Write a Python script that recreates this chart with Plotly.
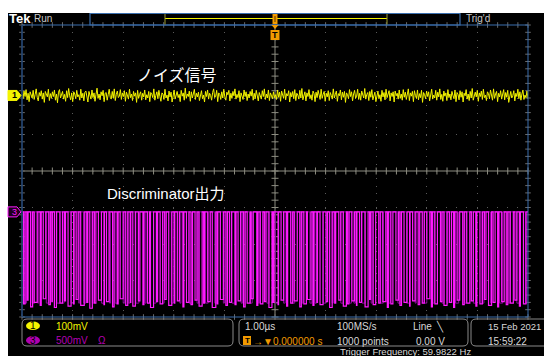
import plotly.graph_objects as go

W, H = 544, 356

# ---- Channel 1: noise signal (mV), 100 mV/div, 500 samples over 10 µs ----
ch1_scale_mv = 100
ch1_offset_div = 2.07
ch1_noise_mv = [
    4, -9, 12, -3, 16, -12, 6, -17, 10, 1, -7, 14, -11, 3, 18, -5, -15, 8, -2, 13, -10, 7, -19, 11, 2,
    -4, 17, -14, 5, -8, 10, -3, 15, -13, 4, -20, 9, 16, -7, 0, 11, -10, 3, -16, 13, -6, 19, -1, -12, 7,
    -17, 10, 4, -9, 14, -4, 2, -13, 17, -7, 6, -15, 9, 12, -3, -18, 11, 0, -10, 15, -6, 7, -16, 3, 20,
    -8, 4, -12, 10, -1, 14, -17, 6, 8, -13, 2, 17, -5, -10, 11, -7, 18, -14, 3, 12, -6, -2, 16, -11, 7,
    -3, 13, -16, 9, 0, -10, 17, -6, 4, -14, 11, -2, 7, -19, 14, -8, 3, 10, -13, 6, -4, 15, -12, 2, -7,
    11, -17, 8, 3, -6, 18, -13, 0, 10, -9, 14, -3, -16, 7, 4, -11, 17, -7, 1, -15, 12, -4, 9, -18, 5,
    15, -10, 0, 11, -6, 3, -17, 14, -2, 7, -13, 20, -8, 4, -3, 12, -16, 10, -7, 2, 17, -11, 6, -4, 9,
    -14, 4, 13, -9, 1, -18, 11, -3, 15, -10, 6, 0, -13, 8, 18, -6, -2, 14, -17, 7, 3, -11, 10, -7, 17,
    -4, -13, 9, 2, 14, -15, 6, -8, 11, -1, 18, -10, 3, -6, 13, -17, 7, 0, -11, 15, -3, 10, -14, 4, -7,
    11, -2, 17, -13, 6, -9, 14, -4, -15, 8, 1, -10, 13, -3, 18, -11, 4, -7, 15, -14, 7, 0, -9, 10, -6,
    2, -11, 15, -5, 9, -16, 12, 3, -8, 17, -12, 5, -1, 13, -18, 8, -4, 11, -9, 16, -14, 6, 1, -10, 14,
    -7, 19, -12, 4, 10, -15, 7, -3, 16, -9, 2, -13, 12, 5, -17, 9, -6, 14, -2, -11, 17, -8, 3, 11, -16,
    6, -4, 13, -14, 8, 0, -10, 18, -7, 3, 12, -16, 5, -1, 15, -12, 9, -5, 11, -19, 7, 2, -9, 16, -3,
    10, -15, 4, 14, -8, -2, 17, -11, 6, -13, 12, 1, -7, 19, -10, 3, 8, -14, 11, -5, 16, -12, 0, 9, -17,
    5, 12, -9, 2, -16, 14, -4, 8, -12, 17, -6, 1, 13, -15, 7, -3, 10, -18, 12, -1, 6, -10, 15, -8, 4,
    -13, 16, -5, 9, -11, 3, 18, -14, 7, -2, 11, -17, 13, 0, -8, 15, -12, 5, -6, 14, -19, 8, 2, -9, 12,
    -3, 10, -15, 6, 17, -10, 1, -7, 14, -13, 9, -4, 18, -11, 3, -16, 12, -2, 7, -14, 16, -6, 4, -12, 11,
    0, -9, 15, -17, 8, 3, -12, 13, -5, 10, -18, 6, -1, 16, -10, 4, -14, 11, -7, 19, -13, 2, 9, -4, 14,
    -16, 7, -3, 12, -11, 17, -6, 1, -14, 10, 5, -9, 15, -2, -13, 18, -8, 4, 11, -17, 6, -4, 13, -10, 2,
    16, -12, 8, -5, 14, -19, 3, 11, -7, 0, 13, -15, 6, -3, 17, -9, 10, -13, 4, 15, -11, 1, -6, 12, -8,
]

# ---- Channel 3: discriminator output (V), 500 mV/div ----
ch3_scale_v = 0.5
ch3_offset_div = -1.12
ch3_high_v = 0.0

# latest acquisition: pulse start (µs), width (µs), low level (V)
ch3_pulse_start_us = [
    -4.97, -4.90, -4.83, -4.76, -4.64, -4.58, -4.47, -4.41, -4.36, -4.25,
    -4.16, -4.09, -3.98, -3.93, -3.84, -3.72, -3.66, -3.57, -3.49, -3.38,
    -3.33, -3.21, -3.12, -3.06, -2.95, -2.86, -2.81, -2.70, -2.61, -2.52,
    -2.46, -2.34, -2.27, -2.18, -2.10, -1.99, -1.93, -1.82, -1.75, -1.66,
    -1.58, -1.50, -1.41, -1.33, -1.24, -1.14, -1.08, -0.97, -0.90, -0.79,
    -0.73, -0.62, -0.55, -0.47, -0.36, -0.29, -0.21, -0.12, -0.04, 0.06,
    0.12, 0.23, 0.31, 0.38, 0.49, 0.57, 0.64, 0.75, 0.83, 0.89,
    1.01, 1.08, 1.18, 1.26, 1.35, 1.43, 1.52, 1.61, 1.67, 1.78,
    1.87, 1.94, 2.05, 2.13, 2.22, 2.29, 2.39, 2.47, 2.55, 2.66,
    2.72, 2.83, 2.91, 3.00, 3.09, 3.16, 3.27, 3.34, 3.45, 3.53,
    3.60, 3.71, 3.79, 3.88, 3.97, 4.05, 4.14, 4.22, 4.31, 4.40,
    4.48, 4.57, 4.65, 4.74, 4.83, 4.91,
]
ch3_pulse_width_us = [
    0.03, 0.02, 0.04, 0.06, 0.02, 0.05, 0.03, 0.01, 0.04, 0.05,
    0.02, 0.06, 0.01, 0.04, 0.07, 0.02, 0.05, 0.03, 0.06, 0.01,
    0.05, 0.03, 0.02, 0.06, 0.04, 0.01, 0.05, 0.03, 0.02, 0.04,
    0.06, 0.02, 0.05, 0.03, 0.06, 0.01, 0.04, 0.02, 0.05, 0.03,
    0.04, 0.06, 0.02, 0.05, 0.07, 0.01, 0.06, 0.03, 0.04, 0.02,
    0.05, 0.03, 0.06, 0.04, 0.02, 0.05, 0.03, 0.06, 0.02, 0.01,
    0.05, 0.02, 0.04, 0.06, 0.03, 0.05, 0.07, 0.02, 0.01, 0.06,
    0.03, 0.05, 0.02, 0.04, 0.06, 0.03, 0.05, 0.01, 0.04, 0.06,
    0.02, 0.05, 0.03, 0.06, 0.02, 0.04, 0.05, 0.03, 0.06, 0.01,
    0.05, 0.03, 0.04, 0.06, 0.02, 0.05, 0.03, 0.06, 0.04, 0.02,
    0.05, 0.03, 0.06, 0.04, 0.02, 0.05, 0.03, 0.06, 0.04, 0.02,
    0.05, 0.03, 0.06, 0.04, 0.02, 0.05,
]
ch3_pulse_low_v = [
    -1.26, -1.21, -1.30, -1.24, -1.28, -1.19, -1.27, -1.23, -1.31, -1.25,
    -1.22, -1.29, -1.26, -1.20, -1.28, -1.24, -1.32, -1.25, -1.21, -1.27,
    -1.23, -1.30, -1.26, -1.19, -1.28, -1.24, -1.29, -1.22, -1.27, -1.25,
    -1.31, -1.23, -1.26, -1.20, -1.28, -1.25, -1.22, -1.30, -1.24, -1.27,
    -1.21, -1.29, -1.25, -1.23, -1.31, -1.26, -1.20, -1.28, -1.24, -1.27,
    -1.22, -1.30, -1.25, -1.19, -1.28, -1.26, -1.23, -1.31, -1.24, -1.27,
    -1.21, -1.29, -1.25, -1.22, -1.30, -1.26, -1.20, -1.28, -1.24, -1.27,
    -1.23, -1.31, -1.25, -1.21, -1.29, -1.26, -1.22, -1.28, -1.24, -1.30,
    -1.20, -1.27, -1.25, -1.23, -1.31, -1.26, -1.21, -1.28, -1.24, -1.29,
    -1.22, -1.27, -1.25, -1.19, -1.30, -1.26, -1.23, -1.28, -1.24, -1.31,
    -1.21, -1.27, -1.25, -1.22, -1.29, -1.26, -1.20, -1.28, -1.24, -1.30,
    -1.23, -1.27, -1.25, -1.21, -1.29, -1.26,
]

# earlier acquisitions kept on screen by persistence
ch3_prev_start_us = [
    -4.94, -4.80, -4.69, -4.52, -4.31, -4.20, -4.03, -3.88, -3.78, -3.61,
    -3.43, -3.27, -3.16, -3.00, -2.90, -2.75, -2.57, -2.40, -2.22, -2.05,
    -1.88, -1.70, -1.54, -1.37, -1.19, -1.02, -0.85, -0.67, -0.50, -0.33,
    -0.16, 0.01, 0.17, 0.34, 0.53, 0.69, 0.79, 0.95, 1.13, 1.30,
    1.47, 1.56, 1.72, 1.90, 2.09, 2.25, 2.43, 2.60, 2.77, 2.95,
    3.12, 3.30, 3.40, 3.57, 3.75, 3.92, 4.09, 4.26, 4.44, 4.61,
    4.78, 4.95,
]
ch3_prev_width_us = [
    0.03, 0.05, 0.02, 0.04, 0.06, 0.03, 0.05, 0.02, 0.04, 0.03,
    0.06, 0.02, 0.05, 0.03, 0.04, 0.06, 0.02, 0.05, 0.03, 0.04,
    0.02, 0.06, 0.03, 0.05, 0.04, 0.02, 0.06, 0.03, 0.05, 0.02,
    0.04, 0.06, 0.03, 0.05, 0.02, 0.04, 0.03, 0.06, 0.02, 0.05,
    0.04, 0.03, 0.06, 0.02, 0.05, 0.03, 0.04, 0.06, 0.02, 0.05,
    0.03, 0.04, 0.02, 0.06, 0.03, 0.05, 0.04, 0.02, 0.06, 0.03,
    0.05, 0.03,
]
ch3_prev_low_v = -1.25

time_range_us = (-5.0, 5.0)
div_range = (-4.0, 4.0)

# ---- text labels ----
label_ch1 = "ノイズ信号"
label_ch3 = "Discriminator出力"
readout_ch1 = "100mV"
readout_ch3 = "500mV"
readout_timebase = "1.00µs"
readout_trigpos = "→▼0.000000 s"
readout_rate = "100MS/s"
readout_points = "1000 points"
readout_trig_src = "Line  ╲"
readout_trig_lvl = "0.00 V"
readout_trig_freq = "Trigger Frequency: 59.9822 Hz"
readout_date = "15 Feb 2021"
readout_time = "15:59:22"

YELLOW = "#f4f400"
MAGENTA = "#ff1aff"
MAGENTA_DIM = "#8a0a9a"
MAGENTA_TXT = "#b400b4"
ORANGE = "#f29a00"
BLUE = "#3b6fae"
GRAY_TXT = "#d8d8d8"
FONT = "Liberation Sans"
CJK = "Noto Sans CJK JP"


def px(x):
    return x / W


def py(y):
    return 1 - y / H


def pulse_train(starts, widths, lows, high, t_lo, t_hi):
    ts, vs = [t_lo], [high]
    for s, w, lo in zip(starts, widths, lows):
        ts += [s, s, s + w, s + w]
        vs += [high, lo, lo, high]
    ts.append(t_hi)
    vs.append(high)
    return ts, vs


# ---- build traces ----
t0, t1 = time_range_us
n = len(ch1_noise_mv)
ch1_t = [t0 + (t1 - t0) * i / (n - 1) for i in range(n)]
ch1_y = [ch1_offset_div + v / ch1_scale_mv for v in ch1_noise_mv]

ch3_t, ch3_v = pulse_train(ch3_pulse_start_us, ch3_pulse_width_us, ch3_pulse_low_v,
                           ch3_high_v, t0, t1)
ch3_y = [ch3_offset_div + v / ch3_scale_v for v in ch3_v]
prev_t, prev_v = pulse_train(ch3_prev_start_us, ch3_prev_width_us,
                             [ch3_prev_low_v] * len(ch3_prev_start_us), ch3_high_v, t0, t1)
prev_y = [ch3_offset_div + v / ch3_scale_v for v in prev_v]

fig = go.Figure()

# graticule tick marks (every 1/5 division)
minor_x = [t0 + 0.2 * i for i in range(51)]
minor_y = [div_range[0] + 0.2 * i for i in range(41)]
tick_style = dict(color="#8c8c80", line=dict(color="#8c8c80", width=1))
fig.add_trace(go.Scatter(x=minor_x, y=[0] * len(minor_x), mode="markers",
                         marker=dict(symbol="line-ns", size=5, **tick_style),
                         hoverinfo="skip", showlegend=False, cliponaxis=False))
fig.add_trace(go.Scatter(x=[0] * len(minor_y), y=minor_y, mode="markers",
                         marker=dict(symbol="line-ew", size=5, **tick_style),
                         hoverinfo="skip", showlegend=False, cliponaxis=False))
edge_style = dict(color="#6a6a6a", line=dict(color="#6a6a6a", width=1))
for yy in div_range:
    fig.add_trace(go.Scatter(x=minor_x, y=[yy] * len(minor_x), mode="markers",
                             marker=dict(symbol="line-ns", size=4, **edge_style),
                             hoverinfo="skip", showlegend=False, cliponaxis=False))
for xx in time_range_us:
    fig.add_trace(go.Scatter(x=[xx] * len(minor_y), y=minor_y, mode="markers",
                             marker=dict(symbol="line-ew", size=4, **edge_style),
                             hoverinfo="skip", showlegend=False, cliponaxis=False))

fig.add_trace(go.Scatter(x=ch1_t, y=ch1_y, mode="lines",
                         line=dict(color=YELLOW, width=1),
                         hoverinfo="skip", showlegend=False))
fig.add_trace(go.Scatter(x=prev_t, y=prev_y, mode="lines",
                         line=dict(color=MAGENTA_DIM, width=1),
                         hoverinfo="skip", showlegend=False))
fig.add_trace(go.Scatter(x=ch3_t, y=ch3_y, mode="lines",
                         line=dict(color=MAGENTA, width=1.2),
                         hoverinfo="skip", showlegend=False))

shapes = []
# screen background
shapes.append(dict(type="rect", xref="paper", yref="paper", layer="below",
                   x0=px(8), x1=px(W), y0=py(H), y1=py(13),
                   fillcolor="black", line=dict(width=0)))
# center crosshair
shapes.append(dict(type="line", xref="x", yref="y", x0=t0, x1=t1, y0=0, y1=0,
                   line=dict(color="#8c8c80", width=1), layer="below"))
shapes.append(dict(type="line", xref="x", yref="y", x0=0, x1=0,
                   y0=div_range[0], y1=div_range[1],
                   line=dict(color="#8c8c80", width=1), layer="below"))
# graticule border
shapes.append(dict(type="rect", xref="paper", yref="paper",
                   x0=px(22), x1=px(528), y0=py(317), y1=py(25),
                   line=dict(color=BLUE, width=1)))
shapes.append(dict(type="line", xref="paper", yref="paper",
                   x0=px(22), x1=px(22), y0=py(317), y1=py(25),
                   line=dict(color="#1f3d63", width=1.5)))

# record view bar at the top
shapes.append(dict(type="rect", xref="paper", yref="paper",
                   x0=px(90), x1=px(460), y0=py(25), y1=py(13.5),
                   line=dict(color=BLUE, width=1.2)))
shapes.append(dict(type="line", xref="paper", yref="paper",
                   x0=px(165), x1=px(387), y0=py(18.5), y1=py(18.5),
                   line=dict(color=YELLOW, width=1)))
for xb in (165, 387):
    shapes.append(dict(type="line", xref="paper", yref="paper",
                       x0=px(xb), x1=px(xb), y0=py(24.5), y1=py(14),
                       line=dict(color="#9a9a30", width=1)))

# trigger position markers
shapes.append(dict(type="rect", xref="paper", yref="paper",
                   x0=px(272.5), x1=px(277.5), y0=py(24), y1=py(14),
                   fillcolor=ORANGE, line=dict(width=0)))
shapes.append(dict(type="line", xref="paper", yref="paper",
                   x0=px(275), x1=px(275), y0=py(22), y1=py(16),
                   line=dict(color="#5a3a00", width=1)))
shapes.append(dict(type="path", xref="paper", yref="paper",
                   path=f"M {px(271.5)},{py(25)} L {px(278.5)},{py(25)} L {px(275)},{py(29)} Z",
                   fillcolor=ORANGE, line=dict(width=0)))
shapes.append(dict(type="rect", xref="paper", yref="paper",
                   x0=px(270.5), x1=px(279.5), y0=py(40), y1=py(30),
                   fillcolor=ORANGE, line=dict(width=0)))


def marker_path(yc):
    return (f"M {px(8)},{py(yc - 5)} L {px(17)},{py(yc - 5)} L {px(21)},{py(yc)} "
            f"L {px(17)},{py(yc + 5)} L {px(8)},{py(yc + 5)} Z")


# channel level markers
ch1_marker_y = 171 - ch1_offset_div * 36.5
ch3_marker_y = 171 - ch3_offset_div * 36.5
shapes.append(dict(type="path", xref="paper", yref="paper", path=marker_path(ch1_marker_y),
                   fillcolor=YELLOW, line=dict(color=YELLOW, width=1)))
shapes.append(dict(type="path", xref="paper", yref="paper", path=marker_path(ch3_marker_y),
                   fillcolor="#200020", line=dict(color=MAGENTA, width=1)))


def rounded_box(x0, y0, x1, y1, r=5):
    p = (f"M {px(x0 + r)},{py(y0)} L {px(x1 - r)},{py(y0)} "
         f"Q {px(x1)},{py(y0)} {px(x1)},{py(y0 + r)} L {px(x1)},{py(y1 - r)} "
         f"Q {px(x1)},{py(y1)} {px(x1 - r)},{py(y1)} L {px(x0 + r)},{py(y1)} "
         f"Q {px(x0)},{py(y1)} {px(x0)},{py(y1 - r)} L {px(x0)},{py(y0 + r)} "
         f"Q {px(x0)},{py(y0)} {px(x0 + r)},{py(y0)} Z")
    return dict(type="path", xref="paper", yref="paper", path=p,
                line=dict(color="#8a8a8a", width=1))


# readout boxes
shapes.append(rounded_box(22, 319, 233, 346))
shapes.append(rounded_box(239, 319, 468, 346))
shapes.append(rounded_box(471, 319, 560, 346))

# channel badges
shapes.append(dict(type="circle", xref="paper", yref="paper",
                   x0=px(26), x1=px(40), y0=py(330), y1=py(321.5),
                   fillcolor=YELLOW, line=dict(width=0)))
shapes.append(dict(type="circle", xref="paper", yref="paper",
                   x0=px(26), x1=px(40), y0=py(344.5), y1=py(336),
                   fillcolor="#b000b0", line=dict(width=0)))
# trigger icon in readout
shapes.append(dict(type="rect", xref="paper", yref="paper",
                   x0=px(243), x1=px(251), y0=py(345), y1=py(336),
                   fillcolor=ORANGE, line=dict(width=0)))

annotations = []


def text(x, y, s, color=GRAY_TXT, size=10, family=FONT, anchor="left", bold=False):
    if bold:
        s = f"<b>{s}</b>"
    annotations.append(dict(x=px(x), y=py(y), xref="paper", yref="paper", text=s,
                            showarrow=False, xanchor=anchor, yanchor="middle",
                            font=dict(color=color, size=size, family=family)))


text(7, 19, "Tek", color="white", size=13, bold=True)
text(32, 19, "Run", color="#c8c8c8", size=10)
text(464, 19, "Trig'd", color="#c8c8c8", size=10)
text(275, 35, "T", color="black", size=9, anchor="center", bold=True)
text(14.5, ch1_marker_y, "1", color="black", size=9, anchor="center", bold=True)
text(14.5, ch3_marker_y, "3", color=MAGENTA, size=9, anchor="center")

text(135, 74, label_ch1, color="white", size=16, family=CJK)
text(105, 193, label_ch3, color="white", size=15, family=f"{FONT}, {CJK}")

text(33, 325.5, "1", color="black", size=10, anchor="center")
text(33, 340, "3", color="black", size=10, anchor="center")
text(54, 326, readout_ch1, color=YELLOW)
text(54, 340, readout_ch3, color=MAGENTA_TXT)
text(96, 340, "Ω", color=MAGENTA_TXT)

text(243, 326, readout_timebase)
text(247, 340.5, "T", color="black", size=8, anchor="center", bold=True)
text(251, 341, readout_trigpos, color=ORANGE)
text(335, 326, readout_rate)
text(335, 341, readout_points)
text(411, 326, readout_trig_src)
text(414, 341, readout_trig_lvl)
text(338, 351.5, readout_trig_freq, size=9.5)
text(486, 326, readout_date, size=9.5)
text(486, 341, readout_time)

fig.update_layout(
    width=W, height=H,
    margin=dict(l=0, r=0, t=0, b=0),
    paper_bgcolor="white",
    plot_bgcolor="rgba(0,0,0,0)",
    shapes=shapes,
    annotations=annotations,
    showlegend=False,
    xaxis=dict(domain=[px(22), px(528)], range=list(time_range_us), dtick=1,
               showgrid=True, gridcolor="#5a5a5a", griddash="1px,6.3px", gridwidth=1,
               zeroline=False, showticklabels=False, showline=False, fixedrange=True),
    yaxis=dict(domain=[py(317), py(25)], range=list(div_range), dtick=1,
               showgrid=True, gridcolor="#5a5a5a", griddash="1px,9.1px", gridwidth=1,
               zeroline=False, showticklabels=False, showline=False, fixedrange=True),
)

fig.write_html("out.html")
